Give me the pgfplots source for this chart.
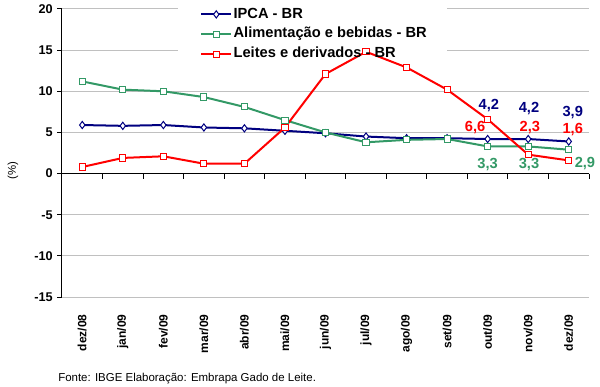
\documentclass[border=0pt]{standalone}
\usepackage{fontspec}
\setmainfont{Liberation Sans}
\usepackage{pgfplots}
\pgfplotsset{compat=1.18}
\definecolor{ipca}{HTML}{000080}
\definecolor{alim}{HTML}{339966}
\definecolor{leite}{HTML}{FF0000}
\definecolor{gridc}{HTML}{C0C0C0}
\begin{document}
\begin{tikzpicture}
\begin{axis}[
  at={(0pt,0pt)}, anchor=south west,
  set layers,
  scale only axis,
  width=395.25pt, height=216pt,
  xmin=-0.5, xmax=12.5, ymin=-15, ymax=20,
  clip=false,
  axis y line=left, axis x line=bottom,
  x axis line style={gridc,-,line width=0.75pt},
  y axis line style={black,-,line width=0.75pt},
  xtick={0,...,12},
  xticklabels={dez/08,jan/09,fev/09,mar/09,abr/09,mai/09,jun/09,jul/09,ago/09,set/09,out/09,nov/09,dez/09},
  x tick style={draw=none},
  xticklabel style={rotate=90,anchor=east,xshift=-6pt,font=\bfseries\fontsize{9}{10}\selectfont},
  ytick={-15,-10,-5,0,5,10,15,20},
  yticklabels={-15,-10,-5,0,5,10,15,20},
  yticklabel style={font=\bfseries\fontsize{9.5}{10}\selectfont},
  y tick style={black,line width=0.75pt},
  tick align=outside,
  major tick length=3.5pt,
  ymajorgrids,
  grid style={gridc,line width=0.75pt},
  legend cell align=left,
  legend image code/.code={\draw[mark repeat=2,mark phase=2,#1] plot coordinates {(0pt,0pt)(11.25pt,0pt)(22.5pt,0pt)};},
  legend style={at={(rel axis cs:0,1)},anchor=north west,xshift=103.5pt,yshift=2.4pt,
    draw=none,fill=none,inner sep=0pt,row sep=2.4pt,
    font=\bfseries\fontsize{11}{12}\selectfont,
    nodes={text height=8pt,text depth=2.5pt,inner sep=1pt}},
]
\begin{pgfonlayer}{axis ticks}
\fill[white] (axis cs:2.36,14.6) rectangle (axis cs:9.0,20.5);
\end{pgfonlayer}
\draw[black,line width=0.75pt] (axis cs:-0.5,0) -- (axis cs:12.5,0);
\pgfplotsinvokeforeach{0.5,1.5,2.5,3.5,4.5,5.5,6.5,7.5,8.5,9.5,10.5,11.5,12.5}{
  \draw[black,line width=0.75pt] (axis cs:#1,0) -- ([yshift=-3.75pt]axis cs:#1,0);
}
\addplot[ipca,line width=1.5pt,mark=diamond*,mark options={fill=white,draw=ipca,line width=0.75pt,mark size=2.7pt}]
 coordinates {(0,5.9)(1,5.8)(2,5.9)(3,5.6)(4,5.5)(5,5.2)(6,4.9)(7,4.5)(8,4.3)(9,4.3)(10,4.2)(11,4.2)(12,3.9)};
\addlegendentry{IPCA - BR}
\addplot[alim,line width=1.5pt,mark=square*,mark options={fill=white,draw=alim,line width=0.75pt,mark size=2.3pt}]
 coordinates {(0,11.2)(1,10.2)(2,10.0)(3,9.3)(4,8.1)(5,6.5)(6,5.0)(7,3.8)(8,4.1)(9,4.2)(10,3.3)(11,3.3)(12,2.9)};
\addlegendentry{Alimentação e bebidas - BR}
\addplot[leite,line width=1.5pt,mark=square*,mark options={fill=white,draw=leite,line width=0.75pt,mark size=2.3pt}]
 coordinates {(0,0.8)(1,1.9)(2,2.1)(3,1.2)(4,1.2)(5,5.6)(6,12.1)(7,14.8)(8,12.9)(9,10.2)(10,6.6)(11,2.3)(12,1.6)};
\addlegendentry{Leites e derivados - BR}
\begin{scope}[font=\bfseries\fontsize{11}{12}\selectfont]
\node[ipca] at (axis cs:10.03,8.3) {4,2};
\node[leite] at (axis cs:9.69,5.6) {6,6};
\node[alim] at (axis cs:10.0,1.1) {3,3};
\node[ipca] at (axis cs:11.02,7.9) {4,2};
\node[leite] at (axis cs:11.04,5.6) {2,3};
\node[alim] at (axis cs:11.02,1.1) {3,3};
\node[ipca] at (axis cs:12.1,7.4) {3,9};
\node[leite] at (axis cs:12.1,5.4) {1,6};
\node[alim] at (axis cs:12.4,1.2) {2,9};
\end{scope}
\node[rotate=90,font=\fontsize{8.5}{10}\selectfont] at ([xshift=-36.75pt]axis cs:-0.5,0.4) {(\%)};
\end{axis}
\node[anchor=west,inner sep=0pt,font=\fontsize{8.6}{10}\selectfont] at (-3pt,-61.5pt) {Fonte: IBGE Elaboração: Embrapa Gado de Leite.};
\path (-46.5pt,-66.75pt) rectangle (403.5pt,222.75pt);
\end{tikzpicture}
\end{document}
